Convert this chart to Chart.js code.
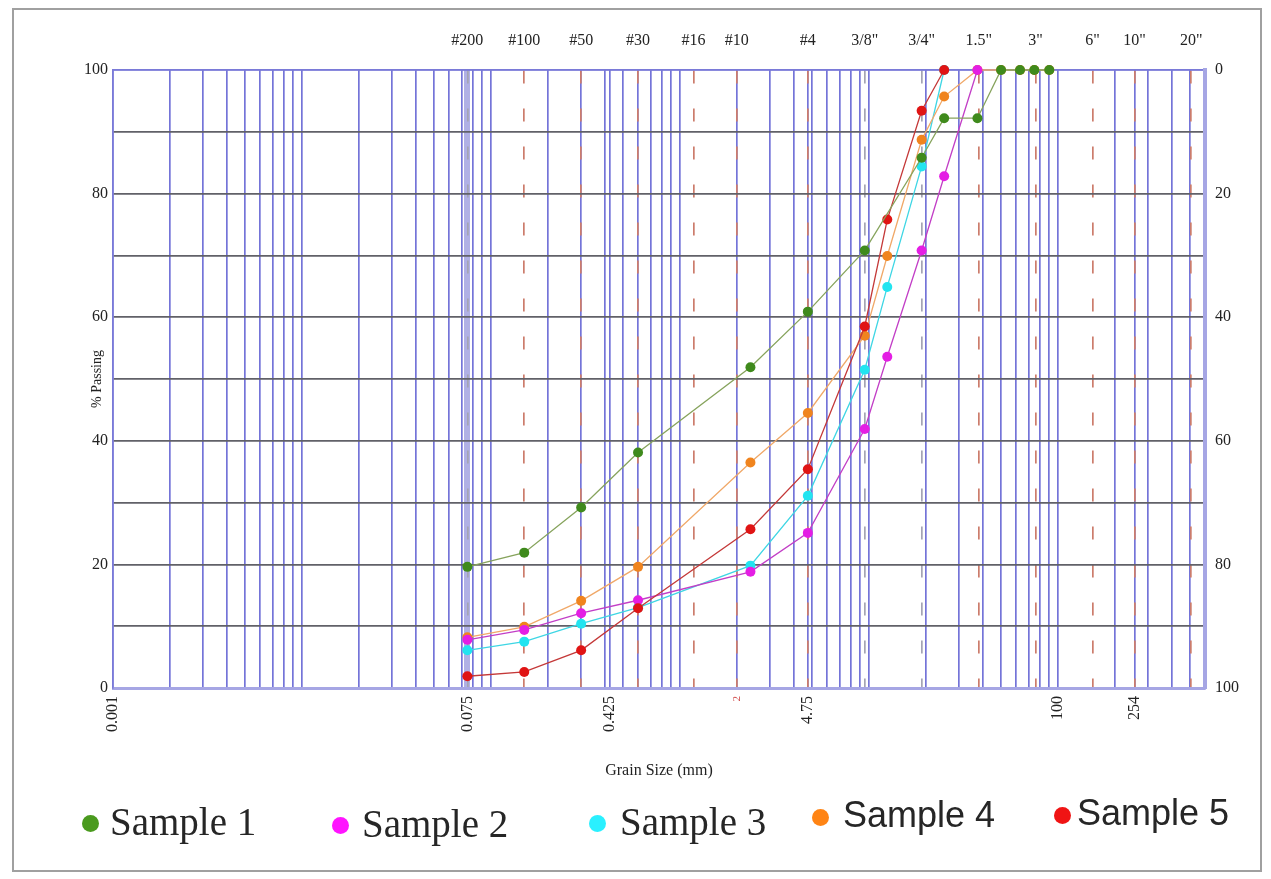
<!DOCTYPE html>
<html>
<head>
<meta charset="utf-8">
<script src="https://cdn.jsdelivr.net/npm/chart.js@4.4.1/dist/chart.umd.min.js"></script>
<style>
html, body { margin: 0; padding: 0; background: #fff; }
#wrap { position: relative; width: 1271px; height: 879px; overflow: hidden; background: #fff; }
#frame { position: absolute; left: 12px; top: 8px; width: 1250px; height: 864px; border: 2px solid #a0a0a0; box-sizing: border-box; }
#myChart { position: absolute; left: 0; top: 0; }
.voce { position: absolute; white-space: nowrap; line-height: 1; color: #262626; }
.pallino { position: absolute; width: 17px; height: 17px; border-radius: 50%; }
</style>
</head>
<body>
<div id="wrap">
  <div id="frame"></div>
  <canvas id="myChart" width="1271" height="879"></canvas>
  <div id="legenda"></div>
</div>
<script>
// setacci (mm) e nomi sull'asse in alto
var sieveSizes = [0.075, 0.15, 0.3, 0.6, 1.18, 2, 4.75, 9.5, 19, 38.1, 76.2, 152.4, 254, 508];
var sieveLabels = ['#200', '#100', '#50', '#30', '#16', '#10', '#4', '3/8"', '3/4"', '1.5"', '3"', '6"', '10"', '20"'];
// etichette in mm sull'asse in basso
var mmTickValues = [0.001, 0.075, 0.425, 2, 4.75, 100, 254];
var mmTickLabels = ['0.001', '0.075', '0.425', '2', '4.75', '100', '254'];
var passingTicks = [0, 20, 40, 60, 80, 100];

// curve granulometriche
var sample1Size = [0.075, 0.15, 0.3, 0.6, 2.36, 4.75, 9.5, 19, 25, 37.5, 50, 63, 75, 90];
var sample1Pass = [19.6, 21.9, 29.2, 38.1, 51.9, 60.9, 70.8, 85.8, 92.2, 92.2, 100, 100, 100, 100];
var sample2Size = [0.075, 0.15, 0.3, 0.6, 2.36, 4.75, 9.5, 12.5, 19, 25, 37.5];
var sample2Pass = [7.8, 9.4, 12.1, 14.2, 18.8, 25.1, 41.9, 53.6, 70.8, 82.8, 100];
var sample3Size = [0.075, 0.15, 0.3, 0.6, 2.36, 4.75, 9.5, 12.5, 19, 25];
var sample3Pass = [6.1, 7.5, 10.4, 13.0, 19.8, 31.1, 51.5, 64.9, 84.4, 100];
var sample4Size = [0.075, 0.15, 0.3, 0.6, 2.36, 4.75, 9.5, 12.5, 19, 25, 37.5, 50, 63, 75, 90];
var sample4Pass = [8.2, 9.9, 14.1, 19.6, 36.5, 44.5, 57.0, 69.9, 88.7, 95.7, 100, 100, 100, 100, 100];
var sample5Size = [0.075, 0.15, 0.3, 0.6, 2.36, 4.75, 9.5, 12.5, 19, 25];
var sample5Pass = [1.9, 2.6, 6.1, 12.9, 25.7, 35.4, 58.5, 75.8, 93.4, 100];

var sampleNames = ['Sample 1', 'Sample 2', 'Sample 3', 'Sample 4', 'Sample 5'];

var serif = "'Liberation Serif', 'Times New Roman', serif";
var sans = "'Liberation Sans', Arial, sans-serif";
Chart.defaults.font.family = serif;
Chart.defaults.color = '#222';

function punti(xs, ys) {
    var out = [];
    for (var i = 0; i < xs.length; i++) {
        out.push({ x: xs[i], y: ys[i] });
    }
    return out;
}

function serie(nome, xs, ys, linea, pallino, ordine) {
    return {
        label: nome,
        data: punti(xs, ys),
        borderColor: linea,
        borderWidth: 1.3,
        backgroundColor: pallino,
        pointBackgroundColor: pallino,
        pointBorderWidth: 0,
        pointRadius: 5,
        tension: 0,
        fill: false,
        clip: false,
        order: ordine
    };
}

// griglia logaritmica 1..9 x 10^k piu le etichette in mm
function tick_asse_mm() {
    var lista = [];
    for (var k = -3; k <= 2; k++) {
        for (var m = 1; m <= 9; m++) {
            var v = m * Math.pow(10, k);
            if (v > 0.0011 && v < 600) lista.push({ value: v });
        }
    }
    for (var i = 0; i < mmTickValues.length; i++) {
        var trovato = false;
        for (var j = 0; j < lista.length; j++) {
            if (Math.abs(lista[j].value / mmTickValues[i] - 1) < 1e-6) {
                lista[j].lbl = mmTickLabels[i];
                trovato = true;
            }
        }
        if (!trovato) lista.push({ value: mmTickValues[i], lbl: mmTickLabels[i] });
    }
    lista.sort(function(a, b) { return a.value - b.value; });
    return lista;
}

function quasi(a, b) { return Math.abs(a / b - 1) < 1e-6; }
var sieveGrigi = [0.075, 9.5, 19];

var ctx = document.getElementById('myChart');
var myChart = new Chart(ctx, {
    type: 'line',
    data: {
        datasets: [
            serie(sampleNames[0], sample1Size, sample1Pass, '#86a35c', '#3f8a1c', 0),
            serie(sampleNames[4], sample5Size, sample5Pass, '#c43838', '#e01414', 1),
            serie(sampleNames[1], sample2Size, sample2Pass, '#c23ec6', '#e41ee4', 2),
            serie(sampleNames[3], sample4Size, sample4Pass, '#f0a868', '#f0841e', 3),
            serie(sampleNames[2], sample3Size, sample3Pass, '#3ed6e4', '#22e4f0', 4)
        ]
    },
    options: {
        responsive: false,
        animation: false,
        layout: { padding: { left: 0, right: 0, top: 0, bottom: 89 } },
        plugins: { legend: { display: false }, tooltip: { enabled: false } },
        scales: {
            x: {
                type: 'logarithmic',
                position: 'bottom',
                min: 0.001,
                max: 600,
                afterFit: function(scale) { scale.height = 102; },
                afterBuildTicks: function(scale) { scale.ticks = tick_asse_mm(); },
                ticks: {
                    autoSkip: false,
                    minRotation: 90,
                    maxRotation: 90,
                    padding: 8,
                    color: function(c) { return c.tick && quasi(c.tick.value, 2) ? '#d04848' : '#222'; },
                    font: function(c) {
                        return { family: serif, size: c.tick && quasi(c.tick.value, 2) ? 11 : 16 };
                    },
                    callback: function(value, index, ticks) { return ticks[index].lbl || ''; }
                },
                grid: {
                    drawTicks: false,
                    color: function(c) { return c.tick && quasi(c.tick.value, 0.075) ? 'rgba(172,172,228,0.95)' : '#7474d8'; },
                    lineWidth: function(c) { return c.tick && quasi(c.tick.value, 0.075) ? 6 : 1.7; }
                },
                border: { color: '#a6a6e4', width: 3 },
                title: {
                    display: true,
                    text: 'Grain Size (mm)',
                    font: { family: serif, size: 16 },
                    padding: { top: 0, bottom: 10 }
                }
            },
            x2: {
                type: 'logarithmic',
                position: 'top',
                display: true,
                min: 0.001,
                max: 600,
                afterFit: function(scale) { scale.height = 70; },
                afterBuildTicks: function(scale) {
                    scale.ticks = sieveSizes.map(function(v, i) { return { value: v, lbl: sieveLabels[i] }; });
                },
                ticks: {
                    autoSkip: false,
                    minRotation: 0,
                    maxRotation: 0,
                    padding: 20,
                    font: { family: serif, size: 16 },
                    callback: function(value, index, ticks) { return ticks[index].lbl || ''; }
                },
                grid: {
                    drawTicks: false,
                    color: function(c) {
                        if (!c.tick) return '#c87a6a';
                        for (var i = 0; i < sieveGrigi.length; i++) {
                            if (quasi(c.tick.value, sieveGrigi[i])) return '#a4a4b4';
                        }
                        return '#cc7c6c';
                    },
                    lineWidth: 1.7
                },
                // il tratteggio delle linee dei setacci
                border: { color: '#7a7ad8', width: 1.6, dash: [13, 25] }
            },
            y: {
                type: 'linear',
                position: 'left',
                min: 0,
                max: 100,
                afterFit: function(scale) { scale.width = 113; },
                ticks: {
                    stepSize: 10,
                    padding: 5,
                    font: { family: serif, size: 16 },
                    callback: function(v) { return passingTicks.indexOf(v) >= 0 ? v : ''; }
                },
                grid: {
                    drawTicks: false,
                    color: function(c) {
                        if (!c.tick) return '#616168';
                        if (c.tick.value === 100) return '#7a7ad8';
                        if (c.tick.value === 0) return 'rgba(0,0,0,0)';
                        return '#616168';
                    },
                    lineWidth: 1.8
                },
                border: { color: '#7a7ad8', width: 1.6 },
                title: {
                    display: true,
                    text: '% Passing',
                    font: { family: serif, size: 14 },
                    padding: { top: 89, bottom: 0 }
                }
            },
            y2: {
                type: 'linear',
                position: 'right',
                display: true,
                reverse: true,
                min: 0,
                max: 100,
                afterFit: function(scale) { scale.width = 66; },
                ticks: {
                    stepSize: 20,
                    padding: 10,
                    font: { family: serif, size: 16 }
                },
                grid: { display: false, drawTicks: false },
                border: { color: '#a6a6e4', width: 4 }
            }
        }
    }
});

// legenda fatta a mano come nell'originale
var posLegenda = [
    { x: 90, y: 823, tx: 110, font: serif, size: 39 },
    { x: 340, y: 825, tx: 362, font: serif, size: 39 },
    { x: 597, y: 823, tx: 620, font: serif, size: 39 },
    { x: 820, y: 817, tx: 843, font: sans, size: 36 },
    { x: 1062, y: 815, tx: 1077, font: sans, size: 36 }
];
var coloriLegenda = ['#4a9a1e', '#ff14ff', '#2af0ff', '#ff8414', '#f01414'];
var legenda = document.getElementById('legenda');
for (var i = 0; i < sampleNames.length; i++) {
    var p = posLegenda[i];
    var d = document.createElement('div');
    d.className = 'pallino';
    d.style.left = (p.x - 8) + 'px';
    d.style.top = (p.y - 8) + 'px';
    d.style.background = coloriLegenda[i];
    legenda.appendChild(d);
    var t = document.createElement('div');
    t.className = 'voce';
    t.textContent = sampleNames[i];
    t.style.left = p.tx + 'px';
    t.style.top = (p.y - p.size * 0.55) + 'px';
    t.style.fontFamily = p.font;
    t.style.fontSize = p.size + 'px';
    legenda.appendChild(t);
}
</script>
</body>
</html>
